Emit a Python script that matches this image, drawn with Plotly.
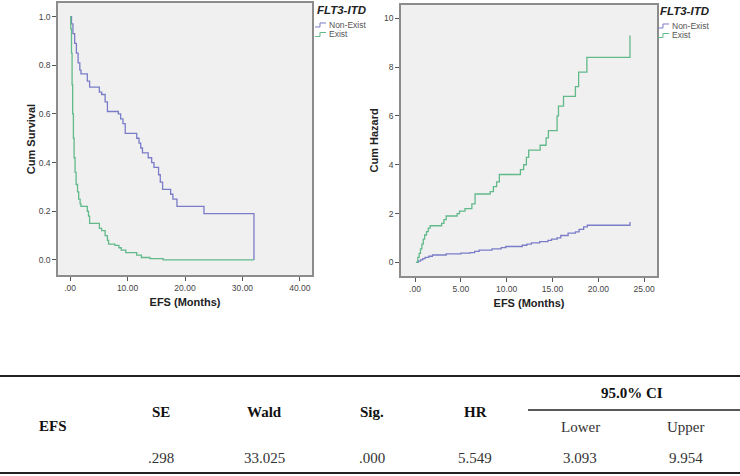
import plotly.graph_objects as go

# ---------------- data ----------------
group_names = ["Non-Exist", "Exist"]
group_colors = ["#7a7cc8", "#62b98a"]

# Kaplan-Meier survival (EFS, months) - step points
surv_nonexist_x = [0, 0.25, 0.5, 0.8, 1.1, 1.4, 1.7, 1.9, 3.0, 3.4, 5.1, 5.5, 6.1, 6.5, 8.4, 8.8, 9.2, 9.6,
                   11.6, 12.0, 12.3, 12.6, 13.6, 14.2, 14.6, 15.4, 15.7, 16.1, 17.5, 17.9, 18.6, 23.3, 32.0, 32.0]
surv_nonexist_y = [1.0, 0.97, 0.93, 0.89, 0.85, 0.81, 0.78, 0.765, 0.735, 0.71, 0.69, 0.68, 0.65, 0.61, 0.60, 0.58, 0.56, 0.52,
                   0.50, 0.48, 0.46, 0.44, 0.42, 0.40, 0.38, 0.35, 0.32, 0.29, 0.27, 0.25, 0.22, 0.19, 0.19, 0.0]

surv_exist_x = [0, 0.12, 0.25, 0.35, 0.45, 0.58, 0.7, 0.87, 1.05, 1.3, 1.5, 1.75, 1.9, 3.0, 3.2, 3.4, 5.1, 5.5,
                6.1, 6.5, 6.7, 7.8, 8.5, 8.9, 9.7, 11.6, 12.4, 13.9, 16.2, 32.0]
surv_exist_y = [1.0, 0.95, 0.85, 0.72, 0.60, 0.50, 0.42, 0.36, 0.31, 0.28, 0.25, 0.23, 0.22, 0.20, 0.18, 0.15, 0.13, 0.12,
                0.10, 0.08, 0.065, 0.06, 0.05, 0.04, 0.03, 0.02, 0.01, 0.005, 0.0, 0.0]

# Cumulative hazard
haz_nonexist_x = [0.1, 0.35, 0.6, 0.85, 1.1, 1.5, 1.9, 3.4, 5.0, 6.0, 6.5, 7.0, 8.4, 9.4, 9.9, 11.7, 12.2, 12.7,
                  13.6, 14.5, 14.9, 15.5, 15.9, 16.7, 17.5, 17.9, 18.4, 18.8, 23.45, 23.45]
haz_nonexist_y = [0.0, 0.05, 0.1, 0.15, 0.2, 0.25, 0.3, 0.35, 0.38, 0.4, 0.45, 0.5, 0.55, 0.6, 0.65, 0.7, 0.75, 0.8,
                  0.85, 0.9, 0.95, 1.0, 1.1, 1.2, 1.25, 1.35, 1.45, 1.52, 1.52, 1.65]

haz_exist_x = [0.1, 0.3, 0.45, 0.6, 0.75, 0.9, 1.05, 1.25, 1.45, 1.65, 2.9, 3.15, 3.4, 4.6, 4.85, 5.45, 6.2, 6.55,
               8.2, 8.55, 8.9, 9.2, 11.5, 11.85, 12.15, 12.4, 13.65, 14.3, 14.55, 15.5, 15.65, 16.2, 17.5, 17.85,
               18.75, 23.45, 23.45]
haz_exist_y = [0.0, 0.2, 0.37, 0.55, 0.75, 0.95, 1.12, 1.26, 1.4, 1.5, 1.6, 1.75, 1.9, 2.0, 2.1, 2.2, 2.4, 2.8,
               2.9, 3.1, 3.3, 3.6, 3.8, 4.0, 4.3, 4.6, 4.8, 5.1, 5.4, 6.0, 6.4, 6.8, 7.2, 7.8,
               8.4, 8.4, 9.3]

surv_xticks = [0, 10, 20, 30, 40]
surv_xtext = [".00", "10.00", "20.00", "30.00", "40.00"]
surv_yticks = [0, 0.2, 0.4, 0.6, 0.8, 1.0]
surv_ytext = ["0.0", "0.2", "0.4", "0.6", "0.8", "1.0"]
haz_xticks = [0, 5, 10, 15, 20, 25]
haz_xtext = [".00", "5.00", "10.00", "15.00", "20.00", "25.00"]
haz_yticks = [0, 2, 4, 6, 8, 10]
haz_ytext = ["0", "2", "4", "6", "8", "10"]

legend_title = "FLT3-ITD"
x_title = "EFS (Months)"

# Cox regression table
table_row_label = "EFS"
table_headers = ["SE", "Wald", "Sig.", "HR"]
table_values = [".298", "33.025", ".000", "5.549"]
ci_header = "95.0% CI"
ci_subheaders = ["Lower", "Upper"]
ci_values = ["3.093", "9.954"]

# ---------------- figure ----------------
W, H = 740, 476
SANS = "Liberation Sans, Arial, sans-serif"
NARROW = "Liberation Sans Narrow, Liberation Sans, Arial Narrow, sans-serif"
SERIF = "Liberation Serif, Times New Roman, serif"

def px(x):
    return x / W

def py(y):
    return 1 - y / H

fig = go.Figure()

series = [
    (surv_nonexist_x, surv_nonexist_y, 0, "x", "y"),
    (surv_exist_x, surv_exist_y, 1, "x", "y"),
    (haz_nonexist_x, haz_nonexist_y, 0, "x2", "y2"),
    (haz_exist_x, haz_exist_y, 1, "x2", "y2"),
]
for xs, ys, gi, xa, ya in series:
    fig.add_trace(go.Scatter(
        x=xs, y=ys, mode="lines", line=dict(color=group_colors[gi], width=1.3, shape="hv"),
        name=group_names[gi], showlegend=False, xaxis=xa, yaxis=ya, hoverinfo="skip"))

axis_common = dict(
    showline=True, mirror=True, linecolor="#8c8c8c", linewidth=1.5,
    ticks="outside", ticklen=4, tickcolor="#555", showgrid=False, zeroline=False,
    tickfont=dict(family=SANS, size=8.5, color="#444"),
)
title_font = dict(family=SANS, size=11, color="#222")

fig.update_layout(
    width=W, height=H,
    margin=dict(l=0, r=0, t=0, b=0),
    paper_bgcolor="white",
    plot_bgcolor="#f0f0f0",
    showlegend=False,
    xaxis=dict(domain=[px(58), px(312)], range=[-2.1, 42.1], tickvals=surv_xticks, ticktext=surv_xtext,
               title=dict(text="<b>" + x_title + "</b>", font=title_font, standoff=6), anchor="y", **axis_common),
    yaxis=dict(domain=[py(275), py(3)], range=[-0.062, 1.056], tickvals=surv_yticks, ticktext=surv_ytext,
               title=dict(text="<b>Cum Survival</b>", font=title_font, standoff=1), anchor="x", **axis_common),
    xaxis2=dict(domain=[px(401), px(657)], range=[-1.53, 26.4], tickvals=haz_xticks, ticktext=haz_xtext,
                title=dict(text="<b>" + x_title + "</b>", font=title_font, standoff=6), anchor="y2", **axis_common),
    yaxis2=dict(domain=[py(276), py(4.7)], range=[-0.56, 10.56], tickvals=haz_yticks, ticktext=haz_ytext,
                title=dict(text="<b>Cum Hazard</b>", font=title_font, standoff=3), anchor="x2", **axis_common),
)

shapes = []
annotations = []

# legends (one per panel)
for (lx, ly) in [(314, 10), (657, 11)]:
    annotations.append(dict(xref="paper", yref="paper", x=px(lx + 27), y=py(ly), text="<b><i>" + legend_title + "</i></b>",
                            showarrow=False, xanchor="center", yanchor="middle",
                            font=dict(family=NARROW, size=11.5, color="#222")))
    for i, name in enumerate(group_names):
        yy = ly + 15 + i * 9.5
        x0 = lx + 1
        path = "M{:.4f},{:.4f} H{:.4f} V{:.4f} H{:.4f}".format(
            px(x0), py(yy + 2), px(x0 + 5), py(yy - 2), px(x0 + 11))
        shapes.append(dict(type="path", xref="paper", yref="paper", path=path,
                           line=dict(color=group_colors[i], width=1)))
        annotations.append(dict(xref="paper", yref="paper", x=px(x0 + 12), y=py(yy), text=name,
                                showarrow=False, xanchor="left", yanchor="middle",
                                font=dict(family=NARROW, size=8.5, color="#555")))

# table rules
shapes.append(dict(type="line", xref="paper", yref="paper", x0=0, x1=1, y0=py(376), y1=py(376),
                   line=dict(color="#222", width=2)))
shapes.append(dict(type="line", xref="paper", yref="paper", x0=0, x1=1, y0=py(473), y1=py(473),
                   line=dict(color="#222", width=2)))
shapes.append(dict(type="line", xref="paper", yref="paper", x0=px(528), x1=1, y0=py(410), y1=py(410),
                   line=dict(color="#222", width=1.5)))

tfont_b = dict(family=SERIF, size=15, color="#111")
tfont = dict(family=SERIF, size=15, color="#333")
annotations.append(dict(xref="paper", yref="paper", x=px(53), y=py(426), text="<b>" + table_row_label + "</b>",
                        showarrow=False, xanchor="center", yanchor="middle", font=tfont_b))
col_x = [161, 264, 372, 475]
for cx, hdr, val in zip(col_x, table_headers, table_values):
    annotations.append(dict(xref="paper", yref="paper", x=px(cx), y=py(412), text="<b>" + hdr + "</b>",
                            showarrow=False, xanchor="center", yanchor="middle", font=tfont_b))
    annotations.append(dict(xref="paper", yref="paper", x=px(cx), y=py(458), text=val,
                            showarrow=False, xanchor="center", yanchor="middle", font=tfont))
annotations.append(dict(xref="paper", yref="paper", x=px(632), y=py(393), text="<b>" + ci_header + "</b>",
                        showarrow=False, xanchor="center", yanchor="middle", font=tfont_b))
for cx, hdr, val in zip([580, 686], ci_subheaders, ci_values):
    annotations.append(dict(xref="paper", yref="paper", x=px(cx), y=py(427), text=hdr,
                            showarrow=False, xanchor="center", yanchor="middle", font=tfont))
    annotations.append(dict(xref="paper", yref="paper", x=px(cx), y=py(458), text=val,
                            showarrow=False, xanchor="center", yanchor="middle", font=tfont))

fig.update_layout(shapes=shapes, annotations=annotations)

fig.write_html("out.html", config={"displayModeBar": False},
               post_script="document.body.style.margin='0';document.body.style.overflow='hidden';")
